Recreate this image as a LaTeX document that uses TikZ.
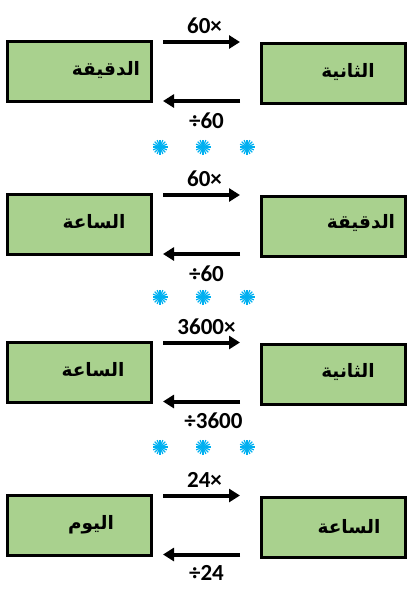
\documentclass[tikz,border=0pt]{standalone}
\usepackage{fontspec}
\setmainfont{Carlito}
\newfontfamily\arabicfont[Script=Arabic]{DejaVu Sans}
\TeXXeTstate=1
\usetikzlibrary{arrows.meta,positioning,calc}
\definecolor{boxgreen}{HTML}{A9D18E}
\definecolor{starblue}{HTML}{00B0F0}
\newcommand{\ar}[1]{\arabicfont\bfseries\beginR #1\endR}

\begin{document}
\begin{tikzpicture}[x=1pt,y=-1pt,
  unitbox/.style={draw=black,line width=3pt,fill=boxgreen,minimum width=144pt,minimum height=60pt,inner sep=0pt},
  unitname/.style={font=\fontsize{18.5}{20}\selectfont},
  arr/.style={line width=4pt,-{Triangle[length=11pt,width=13pt]}},
  factor/.style={font=\fontsize{23}{26}\selectfont\bfseries},
  sparkle/.style={starblue,line width=1.2pt}]
  \useasboundingbox (0,0) rectangle (408,606);

  % seconds -> minutes
  \node[unitbox] (l1) at (79.5,71.5) {};
  \node[unitbox] (r1) at (333.5,73.5) {};
  \node[unitname] (t1) at (106,70) {\ar{الدقيقة}};
  \node[unitname] (s1) at (348,72) {\ar{الثانية}};
  \draw[arr,shorten <=10pt,shorten >=20pt] ([yshift=-2pt]l1.north east) -- ([yshift=-2pt]l1.north east -| r1.west)
    node[factor,midway,above=3pt,xshift=-2pt] (m1) {60×};
  \draw[arr,shorten <=20pt,shorten >=10pt] ([yshift=2pt]l1.south east -| r1.west) -- ([yshift=2pt]l1.south east)
    node[factor,midway,below=6pt] (d1) {÷60};

  % minutes -> hours
  \node[unitbox] (l2) at (79.5,224.5) {};
  \node[unitbox] (r2) at (333.5,226.5) {};
  \node[unitname] (t2) at (94,222) {\ar{الساعة}};
  \node[unitname] (s2) at (361,223) {\ar{الدقيقة}};
  \draw[arr,shorten <=10pt,shorten >=20pt] ([yshift=-2pt]l2.north east) -- ([yshift=-2pt]l2.north east -| r2.west)
    node[factor,midway,above=3pt,xshift=-2pt] (m2) {60×};
  \draw[arr,shorten <=20pt,shorten >=10pt] ([yshift=2pt]l2.south east -| r2.west) -- ([yshift=2pt]l2.south east)
    node[factor,midway,below=6pt] (d2) {÷60};

  % seconds -> hours
  \node[unitbox] (l3) at (79.5,372) {};
  \node[unitbox] (r3) at (333.5,374) {};
  \node[unitname] (t3) at (93,370) {\ar{الساعة}};
  \node[unitname] (s3) at (348,372) {\ar{الثانية}};
  \draw[arr,shorten <=10pt,shorten >=20pt] ([yshift=-2pt]l3.north east) -- ([yshift=-2pt]l3.north east -| r3.west)
    node[factor,midway,above=3pt] (m3) {3600×};
  \draw[arr,shorten <=20pt,shorten >=10pt] ([yshift=2pt]l3.south east -| r3.west) -- ([yshift=2pt]l3.south east)
    node[factor,midway,below=6pt,xshift=7pt] (d3) {÷3600};

  % hours -> days
  \node[unitbox] (l4) at (79.5,525) {};
  \node[unitbox] (r4) at (333.5,527.5) {};
  \node[unitname] (t4) at (91,525) {\ar{اليوم}};
  \node[unitname] (s4) at (349,527) {\ar{الساعة}};
  \draw[arr,shorten <=10pt,shorten >=20pt] ([yshift=-2pt]l4.north east) -- ([yshift=-2pt]l4.north east -| r4.west)
    node[factor,midway,above=3pt,xshift=-2pt] (m4) {24×};
  \draw[arr,shorten <=20pt,shorten >=10pt] ([yshift=2pt]l4.south east -| r4.west) -- ([yshift=2pt]l4.south east)
    node[factor,midway,below=6pt] (d4) {÷24};

  % separators
  \foreach \y in {147,297,447}
    \foreach \x in {160,203,247} {
      \fill[starblue] (\x,\y) circle (2pt);
      \foreach \a in {0,22.5,...,157.5}
        \draw[sparkle] ($(\x,\y)+(\a:7.5)$) -- ($(\x,\y)+(\a+180:7.5)$);
    }
\end{tikzpicture}
\end{document}
